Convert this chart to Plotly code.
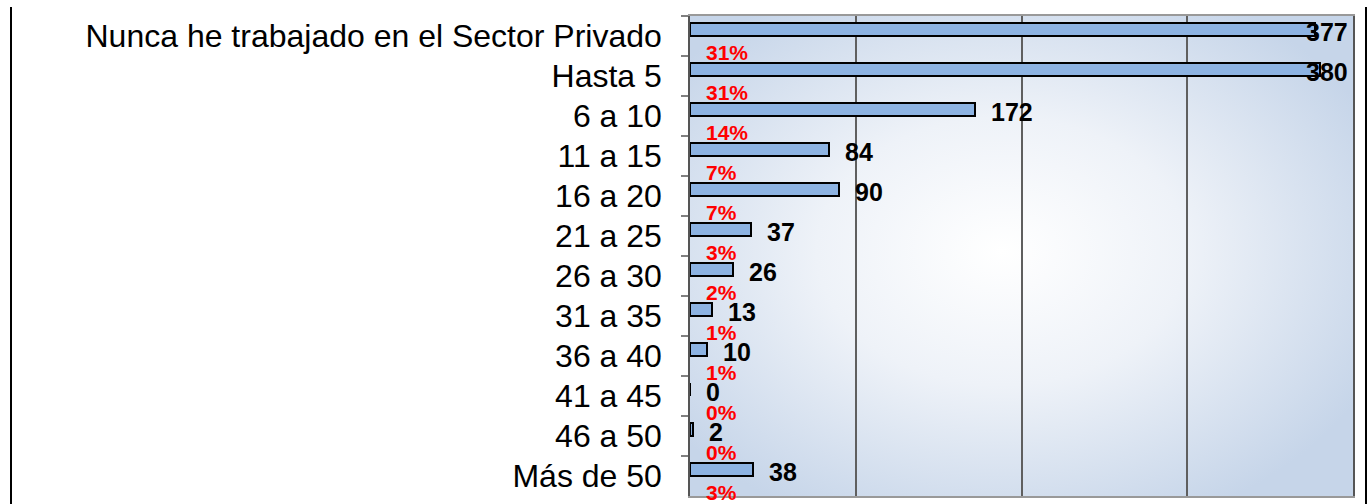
import base64
import plotly.graph_objects as go

categories = ["Nunca he trabajado en el Sector Privado", "Hasta 5", "6 a 10", "11 a 15",
              "16 a 20", "21 a 25", "26 a 30", "31 a 35", "36 a 40", "41 a 45",
              "46 a 50", "Más de 50"]
counts = [377, 380, 172, 84, 90, 37, 26, 13, 10, 0, 2, 38]
percent_labels = [31, 31, 14, 7, 7, 3, 2, 1, 1, 0, 0, 3]

X_MAX = 400
W, H = 1372, 504
ML, MR, MT, MB = 690, 19, 16, 8
PW, PH = W - ML - MR, H - MT - MB

FONT = "Liberation Sans, Arial, sans-serif"

svg = f'''<svg xmlns="http://www.w3.org/2000/svg" width="{PW}" height="{PH}" viewBox="0 0 {PW} {PH}" preserveAspectRatio="none">
<defs><radialGradient id="g" cx="0.47" cy="0.49" r="0.62" gradientUnits="objectBoundingBox">
<stop offset="0" stop-color="#ffffff"/><stop offset="0.45" stop-color="#eef2f8"/><stop offset="1" stop-color="#c6d5e9"/>
</radialGradient></defs><rect x="0" y="0" width="{PW}" height="{PH}" fill="url(#g)"/></svg>'''
bg_src = "data:image/svg+xml;base64," + base64.b64encode(svg.encode()).decode()

fig = go.Figure()
fig.add_trace(go.Bar(
    y=categories, x=counts, orientation="h",
    offset=-0.33, width=0.33,
    marker=dict(color="#8db3e2", line=dict(color="#000000", width=2)),
    hoverinfo="x+y", showlegend=False,
))

annotations = []
for cat, v, p in zip(categories, counts, percent_labels):
    if v > X_MAX * 0.9:
        annotations.append(dict(x=X_MAX, y=cat, xref="x", yref="y", text=f"<b>{v}</b>",
                                xanchor="right", yanchor="middle", xshift=-3, yshift=4,
                                showarrow=False, font=dict(family=FONT, size=25, color="#000000")))
    else:
        annotations.append(dict(x=v, y=cat, xref="x", yref="y", text=f"<b>{v}</b>",
                                xanchor="left", yanchor="middle", xshift=14, yshift=4,
                                showarrow=False, font=dict(family=FONT, size=25, color="#000000")))
    annotations.append(dict(x=0, y=cat, xref="x", yref="y", text=f"<b>{p}%</b>",
                            xanchor="left", yanchor="middle", xshift=14, yshift=-16,
                            showarrow=False, font=dict(family=FONT, size=21, color="#ff0000")))

fig.update_layout(
    width=W, height=H,
    margin=dict(l=ML, r=MR, t=MT, b=MB, pad=0),
    paper_bgcolor="#ffffff", plot_bgcolor="rgba(0,0,0,0)",
    font=dict(family=FONT, color="#000000"),
    bargap=0,
    annotations=annotations,
    images=[dict(source=bg_src, xref="paper", yref="paper", x=0, y=1, sizex=1, sizey=1,
                 xanchor="left", yanchor="top", sizing="stretch", layer="below")],
    shapes=[
        dict(type="line", xref="paper", yref="paper", x0=(11 - ML) / PW, x1=(11 - ML) / PW,
             y0=-0.05, y1=(H - MB - 7) / PH, line=dict(color="#000000", width=2)),
        dict(type="line", xref="paper", yref="paper", x0=(1366 - ML) / PW, x1=(1366 - ML) / PW,
             y0=-0.05, y1=(H - MB - 7) / PH, line=dict(color="#000000", width=2)),
    ],
    xaxis=dict(range=[0, X_MAX], dtick=100, showticklabels=False, ticks="",
               showgrid=True, gridcolor="#5f5f5f", gridwidth=1.5, zeroline=False,
               showline=True, linecolor="#999999", linewidth=2, mirror=True),
    yaxis=dict(type="category", range=[len(categories) - 0.5, -0.5], tickson="boundaries",
               ticks="outside", ticklen=7, tickcolor="#808080", tickwidth=1.5,
               tickfont=dict(family=FONT, size=32, color="#000000"), ticklabelstandoff=20,
               showgrid=False, showline=True, linecolor="#555555", linewidth=1.5, mirror=True),
)

fig.write_html("out.html", config={"displayModeBar": False},
               post_script="document.body.style.margin='0';document.body.style.overflow='hidden';")
